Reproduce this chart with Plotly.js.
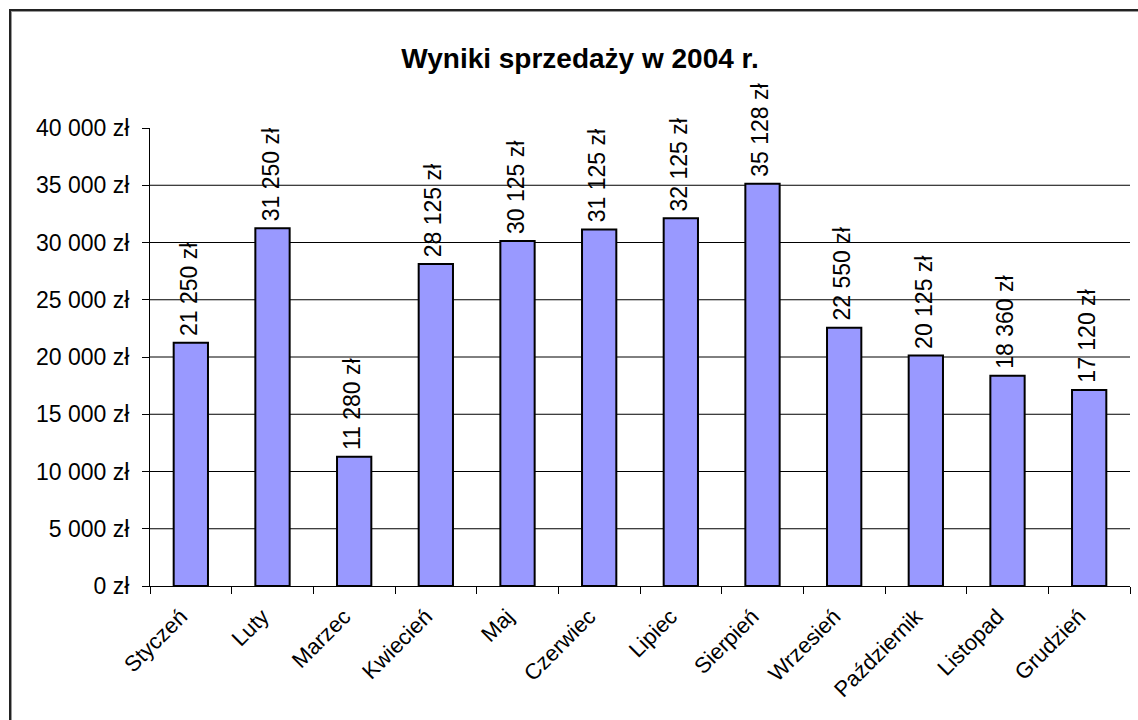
<!DOCTYPE html>
<html>
<head>
<meta charset="utf-8">
<script src="https://cdn.plot.ly/plotly-3.0.1.min.js"></script>
<style>
  html, body { margin: 0; padding: 0; background: #fff; }
  #wrap { position: relative; width: 1138px; height: 720px; overflow: hidden; }
  #chart { width: 1138px; height: 720px; }
  #frame { position: absolute; left: 9px; top: 9px; width: 1200px; height: 800px;
           border-left: 2px solid #222; border-top: 2px solid #222;
           box-shadow: inset 1px 1px 0 #999; pointer-events: none; }
</style>
</head>
<body>
<div id="wrap"><div id="chart"></div><div id="frame"></div></div>
<script>
const months = ["Styczeń", "Luty", "Marzec", "Kwiecień", "Maj", "Czerwiec",
                "Lipiec", "Sierpień", "Wrzesień", "Październik", "Listopad", "Grudzień"];
const sales = [21250, 31250, 11280, 28125, 30125, 31125, 32125, 35128, 22550, 20125, 18360, 17120];
const yTicks = [0, 5000, 10000, 15000, 20000, 25000, 30000, 35000, 40000];
const titleText = "Wyniki sprzedaży w 2004 r.";
const currency = " zł";

function fmt(v) {
  return String(v).replace(/\B(?=(\d{3})+(?!\d))/g, " ") + currency;
}

const font = "Liberation Sans, Arial, sans-serif";

const trace = {
  type: "bar",
  x: months,
  y: sales,
  marker: { color: "#9999FF", line: { color: "#000", width: 2 } },
  hoverinfo: "x+y"
};

const gridShapes = yTicks.slice(1, -1).map(v => ({
  type: "line", xref: "paper", yref: "y", x0: 0, x1: 1, y0: v, y1: v,
  line: { color: "#000", width: 1 }, layer: "below"
}));

const labels = months.map((m, i) => ({
  x: m, y: sales[i], xref: "x", yref: "y",
  text: fmt(sales[i]),
  textangle: -90,
  showarrow: false,
  xanchor: "center", yanchor: "bottom",
  yshift: 5, xshift: -2,
  font: { family: font, size: 23, color: "#000" }
}));

const layout = {
  width: 1138,
  height: 720,
  margin: { l: 150, r: 8, t: 128, b: 134 },
  paper_bgcolor: "#fff",
  plot_bgcolor: "#fff",
  showlegend: false,
  bargap: 0.58,
  font: { family: font, color: "#000" },
  title: {
    text: "<b>" + titleText + "</b>",
    font: { family: font, size: 28, color: "#000" },
    xref: "container", x: 580 / 1138, xanchor: "center",
    yref: "container", y: 1 - 58 / 720, yanchor: "middle"
  },
  xaxis: {
    type: "category",
    showline: true, linecolor: "#000", linewidth: 1,
    ticks: "outside", tickson: "boundaries", ticklen: 7, tickcolor: "#000", tickwidth: 1,
    tickangle: -45,
    ticklabelstandoff: 8,
    ticklabelshift: -10,
    tickfont: { family: font, size: 22, color: "#000" },
    showgrid: false, zeroline: false,
    range: [-0.5, 11.5]
  },
  yaxis: {
    range: [0, 40000],
    tickvals: yTicks,
    ticktext: yTicks.map(fmt),
    showline: true, linecolor: "#000", linewidth: 1,
    ticks: "outside", ticklen: 7, tickcolor: "#000", tickwidth: 1,
    ticklabelstandoff: 8,
    tickfont: { family: font, size: 23, color: "#000" },
    showgrid: false, zeroline: false
  },
  shapes: gridShapes,
  annotations: labels
};

Plotly.newPlot("chart", [trace], layout, { displayModeBar: false, staticPlot: true });
</script>
</body>
</html>
